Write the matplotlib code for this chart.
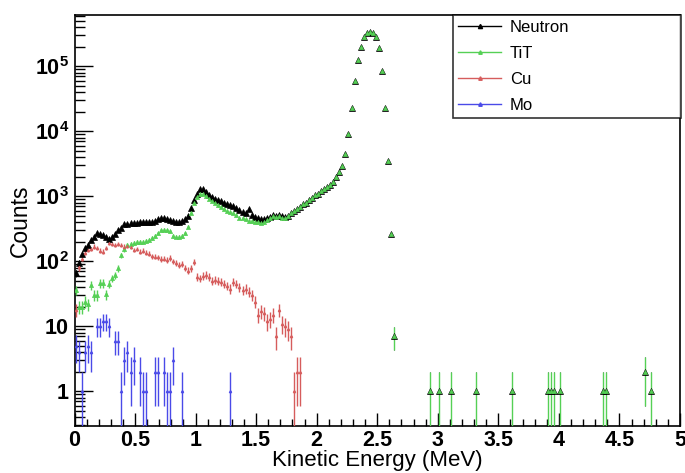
import matplotlib
matplotlib.use("Agg")
import matplotlib.pyplot as plt
from matplotlib.lines import Line2D
from matplotlib.ticker import MultipleLocator, LogLocator, FixedLocator, NullFormatter
import numpy as np

plt.rcParams['font.family'] = ['Liberation Sans', 'DejaVu Sans']
plt.rcParams['mathtext.fontset'] = 'custom'
plt.rcParams['mathtext.rm'] = 'Liberation Sans:bold'
plt.rcParams['mathtext.it'] = 'Liberation Sans:bold'
plt.rcParams['mathtext.bf'] = 'Liberation Sans:bold'

# histogram binning: 200 bins of 0.025 MeV from 0 to 5 MeV
bin_width = 0.025
n_bins = 200

# counts per bin, starting at bin 0 (0 - 0.025 MeV)
neutron_counts = [
    66, 93, 128, 160, 178, 215, 240, 270, 265, 253,
    240, 218, 240, 263, 300, 322, 375, 380, 385, 390,
    385, 400, 395, 400, 405, 395, 415, 440, 465, 470,
    450, 430, 410, 400, 400, 410, 440, 500, 650, 880,
    1100, 1300, 1300, 1180, 1050, 980, 920, 860, 830, 800,
    760, 735, 700, 650, 610, 580, 560, 630, 520, 480,
    460, 445, 440, 455, 480, 510, 500, 520, 490, 480,
    500, 560, 600, 640, 690, 750, 800, 870, 930, 1030,
    1100, 1200, 1280, 1380, 1500, 1650, 1950, 2350, 2950, 4400,
    9100, 23000, 59000, 124000, 200000, 280000, 320000, 340000, 330000, 280000,
    190000, 85000, 23000, 3500, 260, 7,
]

tit_counts = [
    36, 20, 20, 24, 22, 43, 30, 30, 46, 46,
    31, 45, 55, 61, 78, 125, 153, 178, 185, 190,
    195, 198, 200, 205, 210, 230, 245, 270, 300, 305,
    300, 290, 245, 240, 235, 245, 270, 340, 560, 780,
    960, 1080, 1100, 1000, 900, 840, 780, 720, 690, 640,
    600, 570, 550, 510, 470, 460, 440, 420, 410, 400,
    395, 390, 400, 430, 460, 490, 480, 500, 470, 460,
    490, 550, 595, 635, 685, 750, 800, 870, 930, 1030,
    1100, 1200, 1280, 1380, 1500, 1650, 1950, 2350, 2950, 4400,
    9100, 23000, 59000, 124000, 200000, 280000, 320000, 340000, 330000, 280000,
    190000, 85000, 23000, 3500, 260, 7,
]

cu_counts = [
    18, 81, 110, 135, 150, 155, 168, 160, 145, 140,
    160, 190, 185, 180, 182, 178, 168, 172, 165, 150,
    155, 140, 145, 135, 130, 120, 118, 115, 108, 110,
    105, 112, 100, 95, 88, 92, 80, 72, 78, 98,
    58, 55, 60, 62, 58, 50, 52, 50, 48, 45,
    42, 38, 48, 45, 40, 36, 38, 34, 30, 24,
    15, 17, 16, 12, 13, 15, 7, 18, 11, 10,
    9, 7, 1, 2, 2,
]

mo_counts = [
    5, 4, 1, 4, 5, 4, 0, 10, 10, 12,
    12, 10, 0, 6, 6, 1, 3, 4, 2, 3,
    0, 2, 1, 1, 0, 0, 2, 2, 0, 2,
    1, 1, 3, 0, 0, 1, 0, 0, 0, 0,
    0, 0, 0, 0, 0, 0, 0, 0, 0, 0,
    0, 1,
]

# sparse high-energy tail (same events in Neutron and TiT)
tail_bins = [117, 120, 124, 132, 144, 156, 157, 158, 160, 174, 175, 188, 190]
tail_counts = [1, 1, 1, 1, 1, 1, 1, 1, 1, 1, 1, 2, 1]


def full_hist(dense, tail=False):
    h = np.zeros(n_bins)
    h[:len(dense)] = dense
    if tail:
        h[tail_bins] = tail_counts
    return h


centers = (np.arange(n_bins) + 0.5) * bin_width

# name, counts, colour, marker size, error bar width
series = [
    ("Neutron", full_hist(neutron_counts, True), "black", 5.0, 0.6),
    ("TiT", full_hist(tit_counts, True), "#55d055", 3.0, 1.0),
    ("Cu", full_hist(cu_counts), "#d65c5c", 2.0, 1.0),
    ("Mo", full_hist(mo_counts), "#4a4ae8", 2.0, 1.0),
]

fig = plt.figure(figsize=(6.85, 4.73), dpi=100)
ax = fig.add_axes([74.5 / 685, 47 / 473, 605.5 / 685, 411.3 / 473])

for name, h, col, ms, ew in series:
    m = h > 0
    y = h[m]
    err = np.sqrt(y)
    lo = np.where(err >= y, y - 0.01, err)
    ax.errorbar(centers[m], y, yerr=[lo, err], xerr=bin_width / 2 * 0.6,
                fmt='^', color=col, ecolor=col, ms=ms, mew=0.5,
                elinewidth=ew, capsize=0, zorder=3)

ax.set_yscale('log')
ax.set_xlim(0, 5)
ax.set_ylim(0.292, 6.2e5)

ax.xaxis.set_major_locator(MultipleLocator(0.5))
ax.xaxis.set_minor_locator(MultipleLocator(0.1))
ax.xaxis.set_major_formatter(plt.FuncFormatter(lambda v, p: '%g' % v))

ax.yaxis.set_major_locator(FixedLocator([1, 10, 1e2, 1e3, 1e4, 1e5]))
ax.set_yticklabels(['1', '10', r'$10^{2}$', r'$10^{3}$', r'$10^{4}$', r'$10^{5}$'])
ax.yaxis.set_minor_locator(LogLocator(base=10, subs=np.arange(2, 10), numticks=20))
ax.yaxis.set_minor_formatter(NullFormatter())

ax.tick_params(axis='x', which='major', direction='in', length=9.5, width=1,
               labelsize=15.5, pad=3, top=False)
ax.tick_params(axis='x', which='minor', direction='in', length=4.8, width=1, top=False)
ax.tick_params(axis='y', which='major', direction='in', length=13, width=1,
               labelsize=15.5, pad=4, right=False)
ax.tick_params(axis='y', which='minor', direction='in', length=7, width=1, right=False)
for lab in ax.get_xticklabels() + ax.get_yticklabels():
    lab.set_fontweight('bold')

for sp in ax.spines.values():
    sp.set_linewidth(1.2)

ax.set_xlabel('Kinetic Energy (MeV)', fontsize=16)
ax.xaxis.set_label_coords(0.5, -0.058)
ax.set_ylabel('Counts', fontsize=16.5)
ax.yaxis.set_label_coords(-0.07, 0.5)

handles = [Line2D([], [], color=s[2], marker='^', ms=3 if s[0] == "Neutron" else 2.5, lw=1)
           for s in series]
leg = fig.legend(handles, [s[0] for s in series], loc='upper left',
                 bbox_to_anchor=(453 / 685, 1 - 14.7 / 473, 228 / 685, 0.0),
                 mode='expand', fontsize=12, frameon=True, fancybox=False,
                 borderpad=0.3, labelspacing=0.66, handlelength=2.6,
                 handletextpad=0.5, borderaxespad=0, numpoints=1)
leg.get_frame().set_edgecolor('black')
leg.get_frame().set_linewidth(1.2)

fig.savefig('out.png', dpi=100)
